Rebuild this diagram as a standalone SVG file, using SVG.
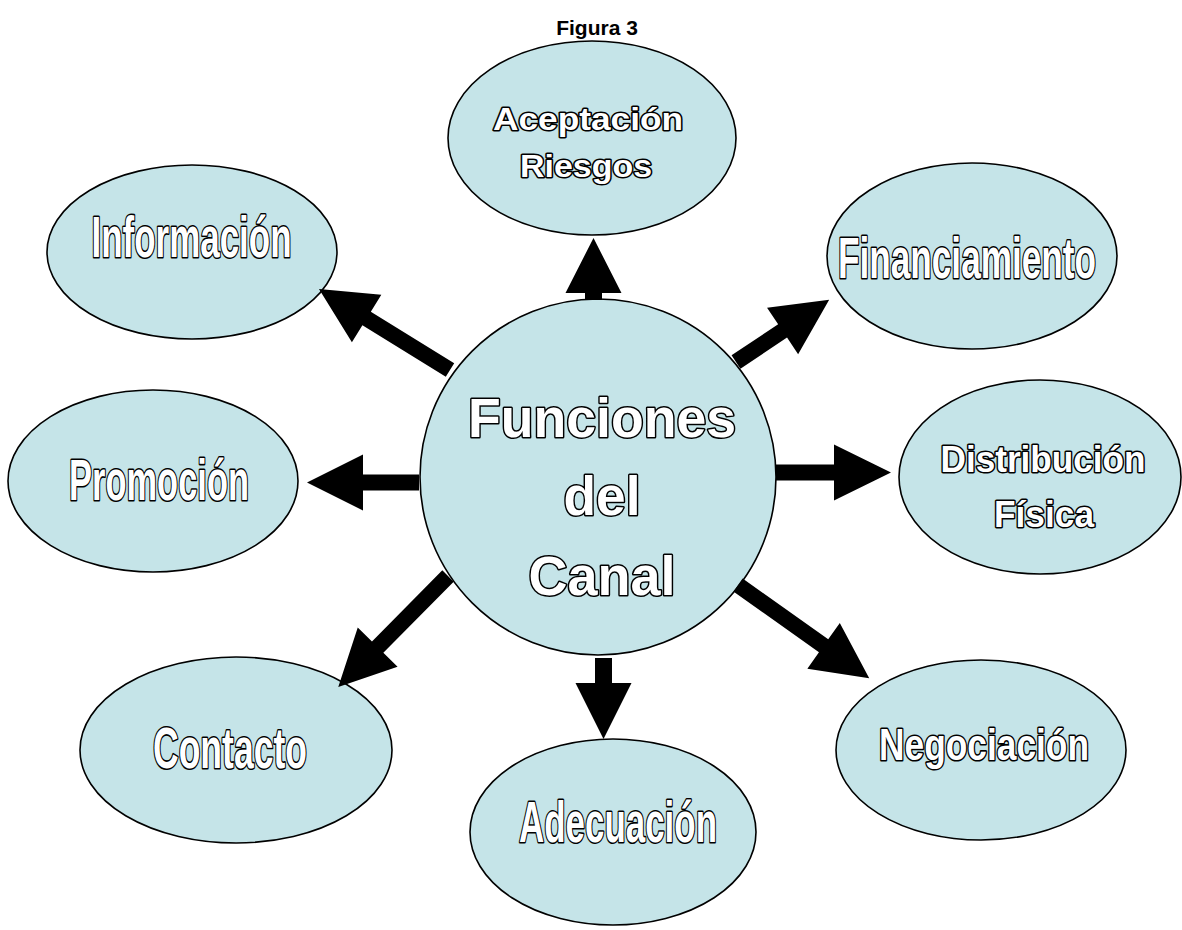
<svg xmlns="http://www.w3.org/2000/svg" width="1182" height="930" viewBox="0 0 1182 930">
<style>
.node{fill:#c5e4e8;stroke:#000;stroke-width:1.6}
.t{font-family:"Liberation Sans",Arial,sans-serif;font-weight:bold;fill:#fff;stroke:#000;stroke-width:3;paint-order:stroke;stroke-linejoin:round;text-anchor:middle}
.c{font-family:"Liberation Sans",Arial,sans-serif;font-weight:bold;fill:#fff;stroke:#000;stroke-width:3.2;paint-order:stroke;stroke-linejoin:round;text-anchor:middle}
.arrow{fill:#000}
.title{font-family:"Liberation Sans",Arial,sans-serif;font-weight:bold;font-size:21px;fill:#000;text-anchor:middle}
</style>
<rect width="1182" height="930" fill="#fff"/>

<g id="node-aceptacion">
<ellipse class="node" cx="592" cy="138" rx="144" ry="97"/>
<text class="t" x="588" y="130" font-size="32" textLength="190" lengthAdjust="spacingAndGlyphs">Aceptación</text>
<text class="t" x="586" y="177" font-size="32" textLength="132" lengthAdjust="spacingAndGlyphs">Riesgos</text>
</g>
<g id="node-informacion">
<ellipse class="node" cx="192" cy="252" rx="145" ry="87"/>
<text class="c" x="191.5" y="257" font-size="58" textLength="200" lengthAdjust="spacingAndGlyphs">Información</text>
</g>
<g id="node-financiamiento">
<ellipse class="node" cx="972" cy="256" rx="145" ry="93"/>
<text class="c" x="967" y="278" font-size="57" textLength="258" lengthAdjust="spacingAndGlyphs">Financiamiento</text>
</g>
<g id="node-promocion">
<ellipse class="node" cx="153" cy="481" rx="145" ry="91"/>
<text class="c" x="159" y="500" font-size="58" textLength="180" lengthAdjust="spacingAndGlyphs">Promoción</text>
</g>
<g id="node-distribucion">
<ellipse class="node" cx="1040" cy="477" rx="141" ry="97"/>
<text class="t" x="1043" y="472" font-size="36" textLength="205" lengthAdjust="spacingAndGlyphs">Distribución</text>
<text class="t" x="1044" y="527" font-size="36" textLength="100" lengthAdjust="spacingAndGlyphs">Física</text>
</g>
<g id="node-contacto">
<ellipse class="node" cx="236" cy="750" rx="156" ry="93"/>
<text class="c" x="230" y="768" font-size="58" textLength="154" lengthAdjust="spacingAndGlyphs">Contacto</text>
</g>
<g id="node-adecuacion">
<ellipse class="node" cx="613" cy="832" rx="143" ry="93"/>
<text class="c" x="618" y="842" font-size="58" textLength="198" lengthAdjust="spacingAndGlyphs">Adecuación</text>
</g>
<g id="node-negociacion">
<ellipse class="node" cx="981" cy="750" rx="145" ry="90"/>
<text class="c" x="984" y="760" font-size="45" textLength="210" lengthAdjust="spacingAndGlyphs">Negociación</text>
</g>
<g id="node-center">
<circle class="node" cx="598" cy="477" r="178"/>
<text class="t" x="602" y="437" font-size="55" textLength="268" lengthAdjust="spacingAndGlyphs">Funciones</text>
<text class="t" x="602" y="515" font-size="55" textLength="77" lengthAdjust="spacingAndGlyphs">del</text>
<text class="t" x="602" y="595" font-size="55" textLength="147" lengthAdjust="spacingAndGlyphs">Canal</text>
</g>

<text class="title" x="597" y="35">Figura 3</text>

<g id="connectors">
<polygon class="arrow" transform="translate(450,370) rotate(211.7)" points="0,-8 98,-8 98,-28 154,0 98,28 98,8 0,8"/>
<polygon class="arrow" transform="translate(593.5,300) rotate(-90)" points="0,-8.5 7,-8.5 7,-28 62,0 7,28 7,8.5 0,8.5"/>
<polygon class="arrow" transform="translate(736,362) rotate(-33.7)" points="0,-8 56,-8 56,-28 112,0 56,28 56,8 0,8"/>
<polygon class="arrow" transform="translate(419,482.5) rotate(180)" points="0,-8 56,-8 56,-28 112,0 56,28 56,8 0,8"/>
<polygon class="arrow" transform="translate(776,472.5)" points="0,-8 58,-8 58,-28 115,0 58,28 58,8 0,8"/>
<polygon class="arrow" transform="translate(448,576) rotate(134.7)" points="0,-8 100,-8 100,-28 156,0 100,28 100,8 0,8"/>
<polygon class="arrow" transform="translate(603.5,658) rotate(90)" points="0,-8.5 25,-8.5 25,-28 81,0 25,28 25,8.5 0,8.5"/>
<polygon class="arrow" transform="translate(738,585) rotate(35.4)" points="0,-8 105,-8 105,-28 161,0 105,28 105,8 0,8"/>
</g>
</svg>
